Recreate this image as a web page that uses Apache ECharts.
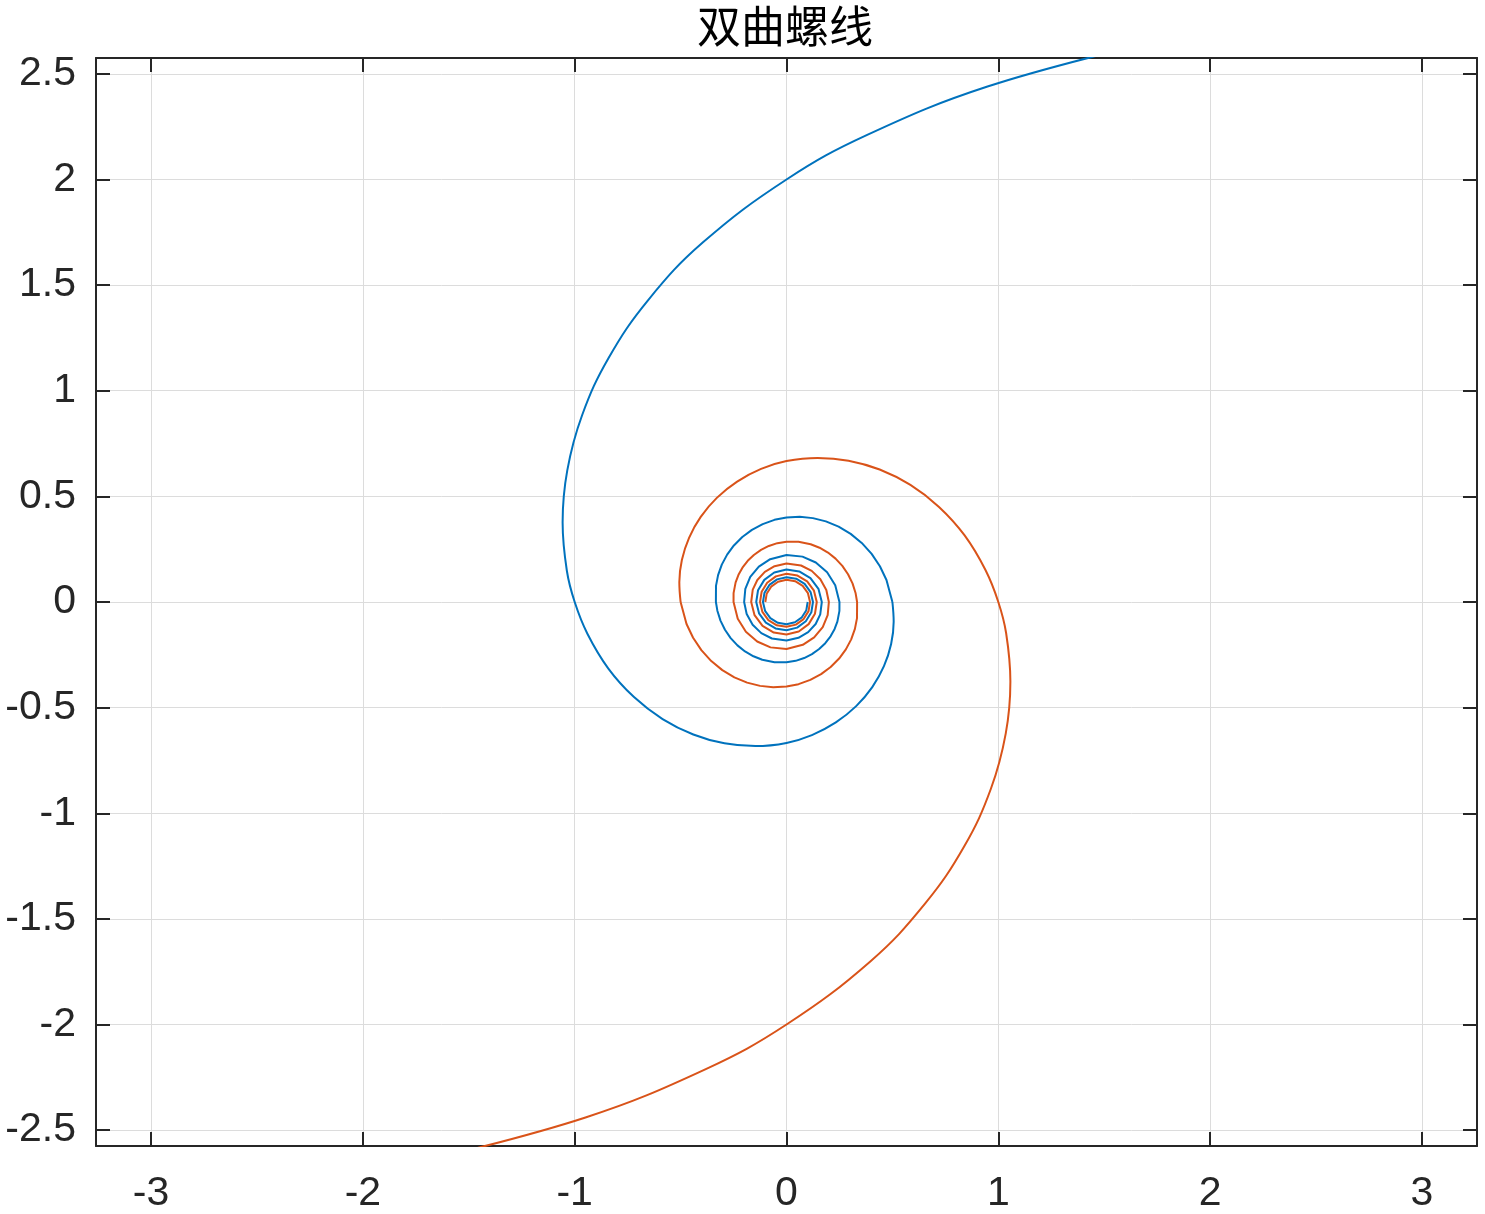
<!DOCTYPE html>
<html>
<head>
<meta charset="utf-8">
<title>双曲螺线</title>
<script src="https://cdn.jsdelivr.net/npm/echarts@6/dist/echarts.min.js"></script>
<style>
  html, body { margin: 0; padding: 0; background: #fff; }
  #chart-container { width: 1485px; height: 1214px; }
</style>
</head>
<body>
<div id="chart-container"></div>
<script>
// 标题与坐标范围
var chartTitle = '双曲螺线';
var xRange = [-3.26, 3.26];
var yRange = [-2.575, 2.575];

// 蓝色螺线外圈 [x, y]
var blueOuter = [
    [1.697, 2.643], [0.949, 2.440], [0.381, 2.211], [0, 2.0],
    [-0.397, 1.700], [-0.654, 1.428], [-0.840, 1.155], [-0.965, 0.884],
    [-1.035, 0.623], [-1.057, 0.376], [-1.037, 0.148], [-1.0, 0],
    [-0.940, -0.150], [-0.841, -0.315], [-0.720, -0.450], [-0.585, -0.554],
    [-0.440, -0.627], [-0.293, -0.669], [-0.147, -0.682], [0, -0.667],
    [0.120, -0.630], [0.233, -0.570], [0.329, -0.493], [0.405, -0.403],
    [0.460, -0.304], [0.494, -0.199], [0.506, -0.094], [0.5, 0]
];

// 蓝色螺线内圈 [x, y]
var blueInner = [
    [0.5, 0],
    [0.472, 0.104], [0.441, 0.1694], [0.402, 0.228], [0.3552, 0.2796],
    [0.303, 0.3225], [0.2461, 0.3566], [0.186, 0.3815], [0.1245, 0.397],
    [0.0626, 0.4032], [0, 0.4], [-0.057, 0.389], [-0.1124, 0.3687],
    [-0.1633, 0.3415], [-0.2086, 0.3078], [-0.2484, 0.2678], [-0.2803, 0.2243],
    [-0.3055, 0.1769], [-0.323, 0.1272], [-0.3329, 0.0761], [-0.3333, 0],
    [-0.3264, -0.0411], [-0.3117, -0.088], [-0.2905, -0.1315], [-0.2636, -0.1709],
    [-0.2316, -0.2053], [-0.1958, -0.2339], [-0.156, -0.257], [-0.1142, -0.2735],
    [-0.0566, -0.2853], [0, -0.2857], [0.0433, -0.2785], [0.0834, -0.2652],
    [0.1203, -0.2466], [0.1541, -0.2227], [0.1831, -0.1948], [0.208, -0.1626],
    [0.2267, -0.1287], [0.2402, -0.0927], [0.2499, -0.042], [0.25, 0],
    [0.2301, 0.0797], [0.1918, 0.1409],
    [0.1384, 0.1871], [0.0755, 0.2148], [0, 0.2222], [-0.0769, 0.2026],
    [-0.1306, 0.1674], [-0.1711, 0.1185], [-0.1944, 0.0618], [-0.2, 0],
    [-0.188, -0.0565], [-0.1599, -0.1075], [-0.1191, -0.1472], [-0.0688, -0.1727],
    [0, -0.1818], [0.0564, -0.1694], [0.1023, -0.1426], [0.1377, -0.1041],
    [0.1593, -0.0587], [0.1667, 0], [0.1508, 0.0625], [0.1131, 0.1131],
    [0.06, 0.1449], [0, 0.1538], [-0.0578, 0.1395], [-0.1048, 0.1048],
    [-0.1344, 0.0557], [-0.1429, 0], [-0.1297, -0.0537], [-0.0975, -0.0975],
    [-0.0519, -0.1253], [0, -0.1333], [0.0502, -0.1212], [0.0912, -0.0912],
    [0.1173, -0.0486], [0.125, 0], [0.1137, 0.0471], [0.0857, 0.0857],
    [0.0457, 0.1103], [0, 0.1176], [-0.0444, 0.1071], [-0.0808, 0.0808],
    [-0.1041, 0.0431], [-0.1111, 0], [-0.1012, -0.0419], [-0.0764, -0.0764],
    [-0.0408, -0.0985], [0, -0.1053], [0.0398, -0.096], [0.0725, -0.0725],
    [0.0936, -0.0388], [0.1, 0]
];

// 橙色螺线外圈 [x, y]
var orangeOuter = [
    [-1.697, -2.643], [-0.949, -2.440], [-0.381, -2.211], [0, -2.0],
    [0.397, -1.700], [0.654, -1.428], [0.840, -1.155], [0.965, -0.884],
    [1.035, -0.623], [1.057, -0.376], [1.037, -0.148], [1.0, 0],
    [0.940, 0.150], [0.841, 0.315], [0.720, 0.450], [0.585, 0.554],
    [0.440, 0.627], [0.293, 0.669], [0.147, 0.682], [0, 0.667],
    [-0.120, 0.630], [-0.233, 0.570], [-0.329, 0.493], [-0.405, 0.403],
    [-0.460, 0.304], [-0.494, 0.199], [-0.506, 0.094], [-0.5, 0]
];

// 橙色螺线内圈 [x, y]
var orangeInner = [
    [-0.5, 0],
    [-0.472, -0.104], [-0.441, -0.1694], [-0.402, -0.228], [-0.3552, -0.2796],
    [-0.303, -0.3225], [-0.2461, -0.3566], [-0.186, -0.3815], [-0.1245, -0.397],
    [-0.0626, -0.4032], [0, -0.4], [0.057, -0.389], [0.1124, -0.3687],
    [0.1633, -0.3415], [0.2086, -0.3078], [0.2484, -0.2678], [0.2803, -0.2243],
    [0.3055, -0.1769], [0.323, -0.1272], [0.3329, -0.0761], [0.3333, 0],
    [0.3264, 0.0411], [0.3117, 0.088], [0.2905, 0.1315], [0.2636, 0.1709],
    [0.2316, 0.2053], [0.1958, 0.2339], [0.156, 0.257], [0.1142, 0.2735],
    [0.0566, 0.2853], [0, 0.2857], [-0.0433, 0.2785], [-0.0834, 0.2652],
    [-0.1203, 0.2466], [-0.1541, 0.2227], [-0.1831, 0.1948], [-0.208, 0.1626],
    [-0.2267, 0.1287], [-0.2402, 0.0927], [-0.2499, 0.042], [-0.25, 0],
    [-0.2301, -0.0797], [-0.1918, -0.1409],
    [-0.1384, -0.1871], [-0.0755, -0.2148], [0, -0.2222], [0.0769, -0.2026],
    [0.1306, -0.1674], [0.1711, -0.1185], [0.1944, -0.0618], [0.2, 0],
    [0.188, 0.0565], [0.1599, 0.1075], [0.1191, 0.1472], [0.0688, 0.1727],
    [0, 0.1818], [-0.0564, 0.1694], [-0.1023, 0.1426], [-0.1377, 0.1041],
    [-0.1593, 0.0587], [-0.1667, 0], [-0.1508, -0.0625], [-0.1131, -0.1131],
    [-0.06, -0.1449], [0, -0.1538], [0.0578, -0.1395], [0.1048, -0.1048],
    [0.1344, -0.0557], [0.1429, 0], [0.1297, 0.0537], [0.0975, 0.0975],
    [0.0519, 0.1253], [0, 0.1333], [-0.0502, 0.1212], [-0.0912, 0.0912],
    [-0.1173, 0.0486], [-0.125, 0], [-0.1137, -0.0471], [-0.0857, -0.0857],
    [-0.0457, -0.1103], [0, -0.1176], [0.0444, -0.1071], [0.0808, -0.0808],
    [0.1041, -0.0431], [0.1111, 0], [0.1012, 0.0419], [0.0764, 0.0764],
    [0.0408, 0.0985], [0, 0.1053], [-0.0398, 0.096], [-0.0725, 0.0725],
    [-0.0936, 0.0388], [-0.1, 0]
];

var blueColor = '#0072BD';
var orangeColor = '#D95319';

var container = document.getElementById('chart-container');
var myChart = echarts.init(container);

var axisColor = '#262626';
var labelFont = { color: axisColor, fontSize: 41, fontFamily: 'Liberation Sans, Arial, sans-serif' };

// 生成坐标轴（主轴带标签，对侧轴只画刻度）
function makeAxis(pos, range, splitNumber, main) {
    return {
        type: 'value',
        position: pos,
        min: range[0],
        max: range[1],
        splitNumber: splitNumber,
        axisLine: { show: true, onZero: false, lineStyle: { color: axisColor, width: 2 } },
        axisTick: { show: true, inside: true, length: 14, lineStyle: { color: axisColor, width: 2 } },
        axisLabel: Object.assign({
            show: main,
            showMinLabel: false,
            showMaxLabel: false,
            margin: (pos === 'bottom') ? 27 : 20
        }, labelFont),
        splitLine: { show: main, lineStyle: { color: '#dcdcdc', width: 1 } }
    };
}

// 螺线线段：外圈平滑，内圈点密直接连线
function spiralSeries(data, color, smooth) {
    return {
        type: 'line',
        data: data,
        smooth: smooth,
        symbol: 'none',
        clip: true,
        lineStyle: { color: color, width: 2 }
    };
}

myChart.setOption({
    animation: false,
    title: {
        text: chartTitle,
        left: 785,
        top: 4,
        padding: 0,
        textAlign: 'center',
        textStyle: { color: '#000', fontSize: 44, fontWeight: 'normal', fontFamily: 'Noto Sans CJK SC' }
    },
    grid: { left: 96, right: 8, top: 58, bottom: 68, containLabel: false },
    xAxis: [
        makeAxis('bottom', xRange, 6, true),
        makeAxis('top', xRange, 6, false)
    ],
    yAxis: [
        makeAxis('left', yRange, 10, true),
        makeAxis('right', yRange, 10, false)
    ],
    series: [
        spiralSeries(blueOuter, blueColor, 0.4),
        spiralSeries(blueInner, blueColor, false),
        spiralSeries(orangeOuter, orangeColor, 0.4),
        spiralSeries(orangeInner, orangeColor, false)
    ]
});
</script>
</body>
</html>
